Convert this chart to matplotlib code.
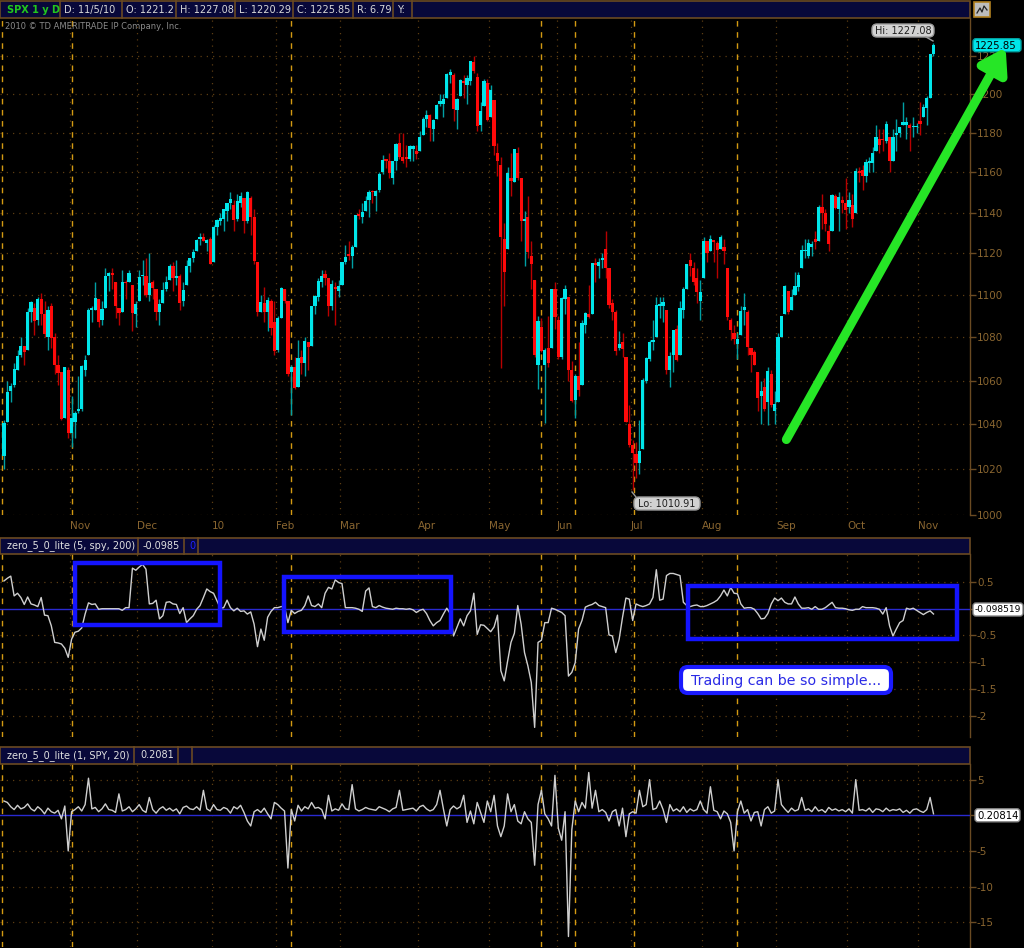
import matplotlib
matplotlib.use('Agg')
import matplotlib.pyplot as plt
from matplotlib.patches import Rectangle, FancyBboxPatch, FancyArrowPatch
from matplotlib.ticker import FixedLocator, NullLocator, FixedFormatter
import numpy as np

# ---------------- DATA ----------------
opens = [1026, 1041, 1055, 1058, 1065, 1072, 1076, 1074, 1092, 1094, 1088, 1098, 1091, 1080, 1095, 1080, 1067, 1064, 1043, 1065,
         1036, 1041, 1046, 1047, 1065, 1072, 1093, 1093, 1098, 1088, 1094, 1109, 1110, 1106, 1094, 1092, 1106, 1106, 1105, 1091,
         1097, 1109, 1109, 1100, 1106, 1103, 1092, 1096, 1103, 1107, 1114, 1108, 1109, 1097, 1105, 1114, 1118, 1121, 1127, 1128, 1125, 1127,
         1116, 1133, 1136, 1137, 1141, 1145, 1144, 1137, 1145, 1147, 1136, 1147, 1138, 1116, 1092, 1096, 1092, 1097, 1087,
         1074, 1089, 1103, 1097, 1064, 1066, 1057, 1071, 1068, 1078, 1076, 1095, 1099, 1106, 1110, 1108, 1095, 1104, 1102,
         1105, 1116, 1119, 1119, 1123, 1139, 1138, 1141, 1146, 1150, 1148, 1151, 1160, 1166, 1166, 1157, 1166, 1175, 1168, 1168, 1167, 1172, 1171,
         1171, 1179, 1187, 1189, 1182, 1187, 1195, 1195, 1198, 1210, 1210, 1192, 1199, 1207, 1205, 1207, 1217, 1209, 1184, 1194, 1206,
         1188, 1197, 1170, 1164, 1127, 1122, 1157, 1155, 1170, 1157, 1136, 1138, 1119, 1107, 1067, 1085, 1067, 1075, 1075, 1103,
         1088, 1071, 1098, 1099, 1065, 1051, 1062, 1058, 1086, 1091, 1091, 1115, 1114, 1117, 1122, 1113, 1096, 1092, 1075, 1078, 1071, 1040,
         1031, 1027, 1023, 1029, 1060, 1070, 1078, 1080, 1095, 1095, 1093, 1065, 1072, 1084, 1072, 1093, 1103, 1117, 1113, 1108, 1097,
         1108, 1126, 1121, 1126, 1125, 1122, 1123, 1113, 1088, 1082, 1077, 1081, 1093, 1092, 1075, 1073, 1064, 1053, 1057, 1050, 1063, 1046,
         1050, 1080, 1091, 1102, 1093, 1100, 1104, 1113, 1121, 1119, 1123, 1127, 1126, 1143, 1140, 1131, 1131, 1148, 1142, 1146, 1145,
         1143, 1144, 1140, 1160, 1161, 1158, 1165, 1165, 1171, 1177, 1177, 1176, 1178, 1166, 1179, 1180, 1184, 1184, 1184, 1183, 1183,
         1186, 1188, 1193, 1198, 1221.2]
highs = [1042, 1060, 1059, 1068, 1074, 1080, 1076, 1094, 1097, 1096, 1099, 1101, 1097, 1095, 1096, 1082, 1072, 1064, 1066, 1066,
         1053, 1046, 1062, 1067, 1072, 1094, 1095, 1106, 1098, 1097, 1113, 1111, 1113, 1106, 1094, 1112, 1107, 1112, 1105, 1097,
         1112, 1117, 1118, 1120, 1107, 1103, 1098, 1106, 1109, 1115, 1116, 1117, 1110, 1106, 1117, 1118, 1122, 1127, 1130, 1130, 1127, 1128,
         1134, 1137, 1140, 1142, 1145, 1150, 1146, 1149, 1150, 1147, 1150.5, 1148, 1142, 1116, 1100, 1104, 1099, 1098, 1097,
         1090, 1104, 1103, 1097, 1067, 1071, 1079, 1074, 1080, 1077, 1095, 1100, 1108, 1112, 1112, 1108, 1107, 1106, 1107,
         1116, 1124, 1126, 1124, 1139, 1142, 1145, 1148, 1151, 1151, 1151, 1160, 1169, 1167, 1170, 1166, 1175, 1180, 1180, 1174, 1174, 1174, 1174,
         1181, 1188, 1192, 1190, 1187, 1195, 1200, 1200, 1211, 1213, 1211, 1198, 1208, 1210, 1210, 1217.5, 1219.8, 1211, 1196, 1208, 1208,
         1205, 1197, 1175, 1168, 1135, 1163, 1170, 1172, 1173, 1157, 1141, 1148, 1126, 1107, 1090, 1089, 1075, 1090, 1103, 1106,
         1090, 1099, 1105, 1099, 1069, 1063, 1078, 1088, 1092, 1105, 1115, 1118, 1118, 1120, 1131, 1113, 1098, 1093, 1083, 1082, 1071, 1049,
         1033, 1032, 1042, 1061, 1071, 1079, 1088, 1099, 1099, 1099, 1093, 1073, 1083, 1086, 1097, 1104, 1115, 1120, 1116, 1113, 1107,
         1128, 1126, 1129, 1126, 1126, 1129, 1127, 1113, 1089, 1086, 1082, 1095, 1101, 1093, 1075, 1074, 1064, 1060, 1061, 1066, 1065, 1055,
         1082, 1090, 1105, 1102, 1103, 1111, 1111, 1124, 1127, 1127, 1126, 1131, 1144, 1149, 1142, 1134, 1149, 1149, 1150, 1148, 1157,
         1150, 1149, 1162, 1163, 1164, 1167, 1168, 1173, 1184, 1182, 1182, 1186, 1178, 1182, 1187, 1183, 1196, 1188, 1185, 1188, 1185,
         1196, 1195, 1199, 1221, 1227.08]
lows = [1020, 1041, 1050, 1057, 1065, 1071, 1067, 1074, 1087, 1081, 1086, 1086, 1080, 1074, 1075, 1063, 1058, 1042, 1043, 1034,
        1030, 1034, 1045, 1046, 1062, 1072, 1087, 1093, 1085, 1086, 1094, 1102, 1103, 1089, 1086, 1092, 1098, 1106, 1083, 1085,
        1097, 1105, 1099, 1097, 1098, 1088, 1086, 1096, 1102, 1107, 1102, 1105, 1093, 1095, 1105, 1111, 1116, 1121, 1124, 1126, 1121, 1115,
        1116, 1129, 1134, 1131, 1136, 1142, 1131, 1136, 1143, 1130, 1135, 1129, 1115, 1090, 1092, 1087, 1083, 1081, 1072,
        1073, 1089, 1096, 1062, 1044.5, 1056, 1057, 1063, 1062, 1065, 1076, 1091, 1097, 1104, 1105, 1090, 1093, 1086, 1099,
        1105, 1115, 1117, 1113, 1123, 1137, 1135, 1141, 1138, 1145, 1141, 1150, 1159, 1162, 1157, 1154, 1161, 1167, 1165, 1163, 1166, 1166, 1167,
        1171, 1179, 1183, 1176, 1176, 1187, 1194, 1188, 1198, 1206, 1186, 1182, 1199, 1198, 1195, 1205, 1211, 1181, 1181, 1194, 1186,
        1188, 1169, 1158, 1065.8, 1095, 1122, 1148, 1155, 1156, 1126, 1114, 1118, 1103, 1071, 1056, 1073, 1040.8, 1066, 1075, 1084,
        1070, 1070, 1091, 1060, 1050, 1043, 1053, 1058, 1082, 1089, 1091, 1106, 1108, 1113, 1108, 1094, 1088, 1072, 1074, 1071, 1041, 1030,
        1010.91, 1016, 1018, 1029, 1059, 1069, 1074, 1080, 1089, 1087, 1063, 1057, 1064, 1069, 1072, 1089, 1103, 1109, 1105, 1096, 1088,
        1108, 1116, 1121, 1116, 1108, 1122, 1115, 1088, 1079, 1077, 1070, 1081, 1086, 1072, 1064, 1067, 1046, 1040, 1046, 1039.7, 1048, 1040,
        1050, 1080, 1091, 1091, 1093, 1100, 1102, 1113, 1118, 1118, 1119, 1122, 1126, 1132, 1131, 1121, 1131, 1142, 1131, 1140, 1132,
        1140, 1133, 1140, 1155, 1151, 1155, 1160, 1160, 1171, 1170, 1171, 1175, 1160, 1166, 1171, 1178, 1184, 1177, 1171, 1178, 1180,
        1179, 1188, 1184, 1198, 1220.29]
closes = [1040.46, 1054.72, 1057.58, 1065.48, 1071.49, 1076.19, 1073.19, 1092.02, 1096.56, 1087.68, 1097.91, 1091.06, 1081.40, 1092.91, 1079.60, 1066.95, 1063.41, 1042.63, 1066.11, 1036.19,
          1042.88, 1045.41, 1046.50, 1066.63, 1069.30, 1093.08, 1093.01, 1098.51, 1087.24, 1093.48, 1109.30, 1110.32, 1109.80, 1094.90, 1091.38, 1106.24, 1105.65, 1110.63, 1091.49, 1095.63,
          1108.86, 1109.24, 1099.92, 1105.98, 1103.25, 1091.94, 1095.95, 1102.35, 1106.41, 1114.11, 1107.93, 1109.18, 1096.08, 1102.47, 1114.05, 1118.02, 1120.59, 1126.48, 1127.78, 1126.20, 1126.42, 1115.10,
          1132.99, 1136.52, 1137.14, 1141.69, 1144.98, 1146.98, 1136.22, 1145.68, 1148.46, 1136.03, 1150.23, 1138.04, 1116.48, 1091.76, 1096.78, 1092.17, 1097.50, 1084.53, 1073.87,
          1089.19, 1103.32, 1097.28, 1063.11, 1066.19, 1056.74, 1070.52, 1068.13, 1078.47, 1075.51, 1094.87, 1099.51, 1106.75, 1109.17, 1108.01, 1094.60, 1105.24, 1102.94, 1104.49,
          1115.71, 1118.31, 1118.79, 1122.97, 1138.70, 1138.50, 1140.45, 1145.61, 1150.24, 1149.99, 1150.51, 1159.46, 1166.21, 1165.83, 1159.90, 1165.81, 1174.17, 1167.72, 1165.73, 1166.59, 1173.22, 1173.27, 1169.43,
          1178.10, 1187.44, 1189.44, 1182.45, 1186.44, 1194.37, 1196.48, 1197.30, 1210.65, 1211.67, 1192.13, 1197.52, 1207.17, 1205.94, 1208.67, 1217.28, 1212.05, 1183.71, 1191.36, 1206.78, 1186.69,
          1202.26, 1173.60, 1165.87, 1128.15, 1110.88, 1159.73, 1155.79, 1171.67, 1157.44, 1135.68, 1136.94, 1120.80, 1115.05, 1071.59, 1087.69, 1073.65, 1074.03, 1067.95, 1103.06, 1089.41,
          1070.71, 1098.38, 1102.83, 1064.88, 1050.47, 1062.00, 1055.69, 1086.84, 1091.60, 1089.63, 1115.23, 1114.61, 1116.04, 1117.51, 1113.20, 1095.31, 1092.04, 1073.69, 1076.76, 1074.57, 1041.24, 1030.71,
          1027.37, 1022.58, 1028.06, 1060.27, 1070.25, 1077.96, 1078.75, 1095.34, 1095.17, 1096.48, 1064.88, 1071.25, 1083.48, 1069.59, 1093.67, 1102.66, 1115.01, 1113.84, 1106.13, 1101.53, 1101.60,
          1125.86, 1120.46, 1127.24, 1125.81, 1121.64, 1127.79, 1121.06, 1089.47, 1083.61, 1079.25, 1079.38, 1092.54, 1094.16, 1075.63, 1071.69, 1067.36, 1051.87, 1055.33, 1047.22, 1064.59, 1048.92, 1049.33,
          1080.29, 1090.10, 1104.51, 1091.84, 1098.87, 1104.18, 1109.55, 1121.90, 1121.10, 1125.07, 1124.66, 1125.59, 1142.71, 1139.78, 1134.28, 1124.83, 1148.67, 1142.16, 1147.70, 1144.73, 1141.20,
          1146.24, 1137.03, 1160.75, 1159.97, 1158.06, 1165.15, 1165.32, 1169.77, 1178.10, 1173.81, 1176.19, 1184.71, 1165.90, 1178.17, 1180.26, 1183.08, 1185.62, 1185.64, 1182.45, 1183.78, 1183.26,
          1184.38, 1193.57, 1197.96, 1221.06, 1225.85]

# indicator zero_5_0_lite (5, spy, 200)
ind_slow = [0.52, 0.57, 0.61, 0.24, 0.29, 0.21, 0.08, 0.22, 0.09, 0.07, 0.04, 0.21, -0.12, -0.13, -0.32, -0.63, -0.64, -0.66, -0.74, -0.91,
            -0.57, -0.44, -0.42, -0.36, -0.10, 0.11, 0.08, 0.09, -0.01, 0.00, 0.00, 0.00, 0.00, 0.00, 0.00, -0.03, 0.02, 0.02, 0.76, 0.72,
            0.78, 0.83, 0.74, 0.09, 0.10, 0.16, -0.19, -0.13, 0.12, 0.13, 0.09, 0.08, -0.09, 0.02, -0.26, -0.19, -0.13, -0.01, 0.06, 0.21,
            0.37, 0.32, 0.29, 0.15, 0.01, 0.02, 0.16, 0.02, -0.04, 0.01, -0.05, -0.04, -0.10, -0.06, -0.29, -0.71, -0.38, -0.59, -0.16, -0.05,
            0.02, 0.02, 0.04, 0.04, -0.26, -0.03, -0.09, -0.05, -0.03, 0.06, 0.24, 0.06, 0.04, 0.09, 0.02, 0.29, 0.40, 0.37, 0.54, 0.49,
            0.47, 0.02, 0.02, 0.02, 0.01, -0.01, -0.05, 0.33, 0.39, 0.04, 0.02, 0.06, 0.03, 0.01, 0.00, -0.01, 0.01, 0.00, 0.00, -0.01,
            0.00, -0.02, -0.07, -0.03, -0.01, -0.09, -0.22, -0.32, -0.26, -0.22, -0.10, 0.01, -0.09, -0.51, -0.35, -0.19, -0.32, -0.13, -0.04, 0.29,
            -0.48, -0.30, -0.31, -0.37, -0.43, -0.34, -0.12, -1.16, -1.35, -0.98, -0.63, -0.46, 0.06, -0.29, -0.82, -1.07, -1.38, -2.22, -0.63, -0.59,
            -0.26, -0.26, 0.01, -0.01, -0.04, -0.07, -0.13, -1.26, -1.19, -1.01, -0.38, -0.22, 0.03, 0.06, 0.08, 0.12, 0.06, 0.04, 0.02, -0.49,
            -0.51, -0.82, -0.57, -0.16, 0.20, 0.18, -0.22, 0.09, 0.06, 0.04, 0.06, 0.09, 0.21, 0.73, 0.16, 0.18, 0.62, 0.66, 0.66, 0.64,
            0.62, 0.12, 0.06, 0.04, 0.06, 0.07, 0.04, 0.04, 0.06, 0.09, 0.12, 0.16, 0.24, 0.35, 0.24, 0.40, 0.29, 0.28, 0.09, 0.01,
            0.02, 0.02, -0.01, -0.09, -0.19, -0.18, -0.09, 0.09, 0.20, 0.15, 0.20, 0.12, 0.09, 0.09, 0.22, 0.09, 0.01, 0.01, 0.02, -0.01,
            0.04, -0.01, -0.01, 0.02, 0.07, 0.12, 0.02, 0.01, 0.01, 0.00, -0.02, -0.03, -0.01, -0.01, 0.04, 0.02, 0.02, 0.02, 0.01, -0.01,
            -0.10, 0.02, -0.32, -0.51, -0.38, -0.26, -0.22, 0.01, -0.01, 0.01, -0.03, -0.07, -0.11, -0.07, -0.04, -0.0985]

# indicator zero_5_0_lite (1, SPY, 20)
ind_fast = [2.0, 1.8, 1.2, 0.8, 1.4, 0.9, 1.1, 1.6, 0.9, 0.6, 1.2, 0.8, 0.2, 1.0, 0.5, 0.3, 0.7, -0.5, 1.3, -5.0,
            0.5, 0.8, 1.2, 0.6, 1.5, 5.2, 0.9, 1.1, 0.5, 0.9, 1.6, 0.8, 0.7, 0.4, 3.0, 0.6, 0.8, 1.2, 0.5, 0.9,
            1.5, 0.7, 0.4, 2.5, 0.8, 0.3, 0.9, 1.2, 0.7, 1.0, 0.6, 0.9, 0.2, 1.1, 1.3, 0.9, 0.8, 1.2, 0.7, 3.5,
            0.9, 0.6, 1.5, 0.8, 0.7, 1.1, 0.9, 0.3, 1.2, 0.9, 1.4, 0.4, -0.8, -1.5, 0.5, 0.8, 0.4, 1.0, 0.2, -0.5,
            1.8, 1.5, 1.0, 0.6, -7.4, 0.8, -0.8, 1.4, 0.6, 1.2, 0.9, 1.8, 1.0, 1.1, 0.8, -0.5, 2.8, 0.6, 0.9, 0.7,
            1.6, 0.9, 0.8, 4.3, 0.9, 0.6, 0.8, 1.1, 0.9, 0.8, 0.7, 1.2, 1.0, 0.8, 0.5, 0.9, 1.1, 3.5, 0.7, 0.8,
            0.9, 1.0, 0.6, 1.2, 1.4, 0.9, 0.6, 0.8, 1.5, 3.5, 0.9, -1.5, 0.8, 1.3, 0.9, 1.2, 2.8, -1.0, 0.6, -1.2,
            1.8, 0.4, -1.0, 2.0, 0.5, 2.8, -1.5, -3.0, -1.5, 3.0, 0.5, 1.5, -0.8, -1.2, 0.5, -0.5, -1.0, -7.0, 1.5, 3.5,
            0.2, -0.5, -1.5, 5.6, -1.8, -3.5, 0.5, -17.0, -2.0, 2.0, 0.5, 1.8, 1.0, 6.0, 1.0, 3.5, 0.5, 0.8, 0.4, -0.8,
            0.5, 0.8, -1.5, 1.0, -3.0, 0.2, 0.5, 0.3, 3.5, 1.2, 1.5, 5.0, 0.8, 1.0, 2.0, 0.8, -1.0, 1.5, 0.6, 0.9,
            0.5, 1.2, 0.4, 0.9, 0.6, 0.8, 2.0, 0.8, 0.3, 4.0, 0.7, 0.5, -0.5, 0.6, 0.2, -1.0, -5.0, 0.5, 2.0, 0.3,
            0.8, -0.8, 0.4, 0.5, -1.5, 0.8, 1.2, 0.3, 0.6, 5.0, 1.5, 0.9, 0.4, 1.0, 0.6, 0.8, 2.5, 0.7, 0.9, 0.5,
            1.2, 0.6, 0.8, 0.4, 1.1, 0.7, 0.9, 0.6, 0.8, 0.5, 0.9, 0.3, 5.0, 0.7, 0.8, 0.6, 1.0, 0.4, 0.9, 0.8,
            0.5, 1.0, 0.6, 0.8, 0.7, 0.9, 0.4, 0.7, 0.3, 0.8, 0.9, 0.6, 0.4, 0.8, 2.5, 0.20814]

month_idx = [20, 40, 62, 81, 100, 123, 144, 164, 186, 207, 229, 250, 271]
month_labels = ['Nov', 'Dec', '10', 'Feb', 'Mar', 'Apr', 'May', 'Jun', 'Jul', 'Aug', 'Sep', 'Oct', 'Nov']
event_idx = [-0.6, 20, 85, 159, 169, 186.4, 217]
price_ticks = [1000, 1020, 1040, 1060, 1080, 1100, 1120, 1140, 1160, 1180, 1200, 1220]
slow_ticks = [0.5, 0, -0.5, -1, -1.5, -2]
slow_tick_labels = ['0.5', '', '-0.5', '-1', '-1.5', '-2']
fast_ticks = [5, 0, -5, -10, -15]
fast_tick_labels = ['5', '', '-5', '-10', '-15']
# highlight boxes on the slow indicator: (start idx, end idx, top, bottom)
boxes = [(21.0, 63.9, 0.86, -0.30), (82.7, 132.2, 0.59, -0.44), (202.4, 282.0, 0.42, -0.57)]

header_fields = ['D: 11/5/10', 'O: 1221.2', 'H: 1227.08', 'L: 1220.29', 'C: 1225.85', 'R: 6.79', 'Y:']

# ---------------- STYLE ----------------
W, H = 1024, 948
BROWN = '#6a4a22'
LABEL = '#8a6630'
GRIDC = '#5c3d12'
GOLD = '#d49a12'
CYAN = '#00e6ea'
RED = '#ff0a0a'
NAVY = '#08083a'
FS = 7.0

plt.rcParams['font.family'] = ['DejaVu Sans']
fig = plt.figure(figsize=(W / 100, H / 100), dpi=100, facecolor='black')


def px_axes(x0, y0, x1, y1):
    a = fig.add_axes([x0 / W, 1 - y1 / H, (x1 - x0) / W, (y1 - y0) / H])
    a.set_facecolor('black')
    for s in a.spines.values():
        s.set_color(BROWN)
        s.set_linewidth(1.0)
    a.spines['top'].set_visible(False)
    a.spines['left'].set_visible(False)
    a.spines['bottom'].set_visible(False)
    return a


XLIM = (-1.18, 285.8)
n = len(closes)
idx = np.arange(n)
O = np.array(opens, dtype=float)
C = np.array(closes, dtype=float)
Hh = np.array(highs, dtype=float)
Ll = np.array(lows, dtype=float)

# ---------- price panel ----------
ax = px_axes(0, 18, 970, 515)
ax.set_yscale('log')
ax.set_xlim(*XLIM)
ax.set_ylim(1000, 1240.3)
up = C >= O
body_col = np.where(up, CYAN, RED)
wick_col = np.where(up, '#00a0a4', '#b80000')
ax.vlines(idx, Ll, Hh, colors=wick_col, lw=1.0, zorder=3)
bottom = np.minimum(O, C)
height = np.maximum(np.abs(C - O), 0.8)
ax.bar(idx, height, bottom=bottom, width=0.95, color=body_col, linewidth=0, zorder=4)

ax.yaxis.set_major_locator(FixedLocator(price_ticks))
ax.yaxis.set_minor_locator(NullLocator())
ax.yaxis.set_major_formatter(FixedFormatter([str(t) for t in price_ticks]))
ax.yaxis.tick_right()
ax.tick_params(axis='y', colors=BROWN, labelcolor=LABEL, length=4, width=1, pad=1, labelsize=FS + 0.5)
ax.set_xticks([])
for t in price_ticks:
    ax.axhline(t, color=GRIDC, lw=0.9, ls=(0, (1, 4)), zorder=1)

# ---------- slow indicator ----------
ax2 = px_axes(0, 554, 970, 737)
ax2.set_xlim(*XLIM)
ax2.set_ylim(-2.40, 1.024)
ax2.plot(idx, ind_slow, color='#cfcfcf', lw=1.0, zorder=4)
ax2.axhline(0, color='#2a2ad0', lw=1.0, zorder=3)
ax2.set_yticks(slow_ticks)
ax2.set_yticklabels(slow_tick_labels)
ax2.yaxis.tick_right()
ax2.tick_params(axis='y', colors=BROWN, labelcolor=LABEL, length=4, width=1, pad=1, labelsize=FS + 0.5)
ax2.set_xticks([])
for t in slow_ticks:
    if t != 0:
        ax2.axhline(t, color=GRIDC, lw=0.9, ls=(0, (1, 4)), zorder=1)
for (x0, x1, yt, yb) in boxes:
    ax2.add_patch(Rectangle((x0, yb), x1 - x0, yt - yb, fill=False, edgecolor='#1414ff',
                            lw=3.2, zorder=6, clip_on=False))

# ---------- fast indicator ----------
ax3 = px_axes(0, 764, 970, 947)
ax3.set_xlim(*XLIM)
ax3.set_ylim(-18.47, 7.19)
ax3.plot(idx, ind_fast, color='#cfcfcf', lw=1.0, zorder=4)
ax3.axhline(0, color='#2a2ad0', lw=1.0, zorder=3)
ax3.set_yticks(fast_ticks)
ax3.set_yticklabels(fast_tick_labels)
ax3.yaxis.tick_right()
ax3.tick_params(axis='y', colors=BROWN, labelcolor=LABEL, length=4, width=1, pad=1, labelsize=FS + 0.5)
ax3.set_xticks([])
for t in fast_ticks:
    if t != 0:
        ax3.axhline(t, color=GRIDC, lw=0.9, ls=(0, (1, 4)), zorder=1)

for a in (ax, ax2, ax3):
    for m in month_idx:
        a.axvline(m - 0.5, color=GRIDC, lw=0.9, ls=(0, (1, 4)), zorder=1)
    for e in event_idx:
        a.axvline(e, color=GOLD, lw=1.0, ls=(0, (4, 4)), zorder=2)

# month labels under price panel
for m, lab in zip(month_idx, month_labels):
    ax.text(m - 0.5, -0.012, lab, transform=ax.get_xaxis_transform(), ha='left', va='top',
            color=LABEL, fontsize=FS + 0.5)

# ---------- overlay (pixel coordinates) ----------
ov = fig.add_axes([0, 0, 1, 1], zorder=20)
ov.set_xlim(0, W)
ov.set_ylim(H, 0)
ov.axis('off')
ov.patch.set_alpha(0)


def header(y0, y1, dividers):
    ov.add_patch(Rectangle((0, y0), 970, y1 - y0, facecolor=NAVY, edgecolor=BROWN, lw=1.2))
    for d in dividers:
        ov.plot([d, d], [y0, y1], color=BROWN, lw=1.2)


# top header bar
divs = [60, 121.7, 176, 235, 293, 353, 393, 411.7]
header(1, 18, divs)
ov.text(7, 9.5, 'SPX 1 y D', color='#22c81e', fontsize=FS, fontweight='bold', va='center', ha='left')
lefts = [64, 126, 180, 239, 297, 357, 397]
for xl, txt in zip(lefts, header_fields):
    ov.text(xl, 9.5, txt, color='#d8d8d8', fontsize=FS, va='center', ha='left')
# small icon top right
ov.add_patch(Rectangle((974, 2), 16, 15, facecolor='#bdbdbd', edgecolor='#b08020', lw=1.2))
ov.plot([977, 980, 982, 984, 987], [13, 8, 12, 6, 10], color='#222222', lw=0.9)
ov.text(5, 26, '2010 \u00a9 TD AMERITRADE IP Company, Inc.', color='#8a8a8a', fontsize=6.0, va='center', ha='left')

# panel 2 header
header(538, 554, [138, 184, 198])
ov.text(7, 546, 'zero_5_0_lite (5, spy, 200)', color='#e0e0e0', fontsize=FS, va='center', ha='left')
ov.text(143, 546, '-0.0985', color='#e0e0e0', fontsize=FS, va='center', ha='left')
ov.text(189, 546, '0', color='#2020ff', fontsize=FS, va='center', ha='left')

# panel 3 header
header(747, 764, [134, 178, 192])
ov.text(7, 755.5, 'zero_5_0_lite (1, SPY, 20)', color='#e0e0e0', fontsize=FS, va='center', ha='left')
ov.text(140, 755.5, '0.2081', color='#e0e0e0', fontsize=FS, va='center', ha='left')


# value labels at right
def tag(x, y, txt, fc, ec, tc, w, fs):
    ov.add_patch(FancyBboxPatch((x, y - 6.5), w, 13, boxstyle='round,pad=0,rounding_size=3',
                                facecolor=fc, edgecolor=ec, lw=1.0, clip_on=False))
    ov.text(x + 2, y + 0.5, txt, color=tc, fontsize=fs, va='center', ha='left', clip_on=False)


tag(973, 45.2, '1225.85', CYAN, '#00a0a0', '#000000', 48, FS + 0.3)
tag(973, 609.5, '-0.098519', '#ffffff', '#888888', '#000000', 50, 6.5)
tag(975, 815.3, '0.20814', '#ffffff', '#888888', '#000000', 45, FS + 0.3)

# Hi / Lo callouts
ov.add_patch(FancyBboxPatch((872, 24), 62, 13, boxstyle='round,pad=0,rounding_size=5',
                            facecolor='#d2d2d2', edgecolor='#9a9a9a', lw=1.0))
ov.text(903, 30.8, 'Hi: 1227.08', color='#202020', fontsize=FS, va='center', ha='center')
ov.plot([926, 933], [37, 41], color='#9a9a9a', lw=1.0)
ov.add_patch(FancyBboxPatch((634, 497), 66, 13, boxstyle='round,pad=0,rounding_size=5',
                            facecolor='#d2d2d2', edgecolor='#9a9a9a', lw=1.0))
ov.text(667, 503.8, 'Lo: 1010.91', color='#202020', fontsize=FS, va='center', ha='center')
ov.plot([632, 636], [492, 497], color='#9a9a9a', lw=1.0)

# green arrow
arr = FancyArrowPatch((785, 442), (1007, 45), arrowstyle='-|>,head_length=14,head_width=9',
                      color='#26e626', lw=6.5, capstyle='round', joinstyle='round', mutation_scale=1)
ov.add_patch(arr)

# note box
ov.add_patch(FancyBboxPatch((681, 667), 210, 26, boxstyle='round,pad=0,rounding_size=7',
                            facecolor='#ffffff', edgecolor='#1a1aff', lw=3.0))
ov.text(786, 680.5, 'Trading can be so simple...', color='#2a2ae6', fontsize=10.2, va='center', ha='center')

fig.savefig('out.png', dpi=100, facecolor='black')
